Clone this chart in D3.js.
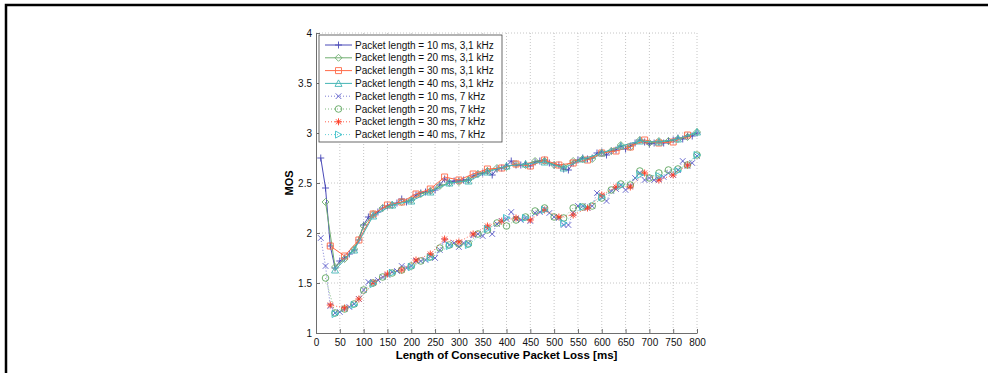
<!DOCTYPE html>
<html>
<head>
<meta charset="utf-8">
<script src="https://cdn.jsdelivr.net/npm/d3@7"></script>
<style>
  body { margin: 0; background: #fff; }
  text { font-family: "Liberation Sans", Arial, sans-serif; }
</style>
</head>
<body>
<div id="chart"></div>
<script>
// Tick labels
const xTicks = d3.range(0, 801, 50);
const yTicks = [1, 1.5, 2, 2.5, 3, 3.5, 4];

// Loss lengths (multiples of the packet length)
const loss10 = d3.range(10, 801, 10);
const loss20 = d3.range(20, 801, 20);
const loss30 = d3.range(30, 781, 30);
const loss40 = d3.range(40, 801, 40);

// MOS values, 3,1 kHz
const mos10nb = [2.75, 2.45, 1.87, 1.65, 1.72, 1.75, 1.79, 1.83, 1.93, 2.08,
  2.16, 2.18, 2.21, 2.25, 2.27, 2.28, 2.30, 2.34, 2.31, 2.33,
  2.38, 2.40, 2.41, 2.42, 2.43, 2.48, 2.54, 2.51, 2.52, 2.52,
  2.53, 2.53, 2.57, 2.59, 2.60, 2.62, 2.58, 2.64, 2.65, 2.67,
  2.72, 2.68, 2.68, 2.69, 2.67, 2.71, 2.72, 2.73, 2.70, 2.68,
  2.68, 2.64, 2.63, 2.70, 2.73, 2.75, 2.74, 2.75, 2.80, 2.81,
  2.78, 2.82, 2.83, 2.87, 2.84, 2.87, 2.90, 2.93, 2.91, 2.89,
  2.90, 2.91, 2.90, 2.92, 2.93, 2.95, 2.94, 2.97, 2.97, 3.00];
const mos20nb = [2.31, 1.66, 1.74, 1.84, 2.07, 2.19, 2.25, 2.28, 2.31, 2.33,
  2.39, 2.42, 2.47, 2.50, 2.51, 2.53, 2.59, 2.62, 2.65, 2.66,
  2.69, 2.68, 2.72, 2.72, 2.68, 2.66, 2.72, 2.74, 2.74, 2.80,
  2.82, 2.88, 2.86, 2.93, 2.90, 2.92, 2.92, 2.94, 2.96, 3.01];
const mos30nb = [1.87, 1.77, 1.93, 2.19, 2.28, 2.31, 2.39, 2.44, 2.56, 2.53,
  2.59, 2.64, 2.65, 2.69, 2.67, 2.73, 2.68, 2.70, 2.73, 2.80,
  2.82, 2.86, 2.93, 2.90, 2.91, 2.98];
const mos40nb = [1.63, 1.83, 2.17, 2.28, 2.32, 2.41, 2.50, 2.52, 2.61, 2.67,
  2.69, 2.71, 2.65, 2.74, 2.80, 2.87, 2.92, 2.91, 2.94, 3.01];

// MOS values, 7 kHz
const mos10wb = [1.95, 1.67, 1.27, 1.20, 1.21, 1.24, 1.26, 1.29, 1.34, 1.43,
  1.51, 1.51, 1.53, 1.56, 1.58, 1.61, 1.62, 1.67, 1.65, 1.67,
  1.72, 1.72, 1.73, 1.77, 1.75, 1.83, 1.92, 1.88, 1.90, 1.86,
  1.90, 1.90, 1.98, 1.99, 1.97, 2.05, 1.99, 2.09, 2.12, 2.14,
  2.21, 2.14, 2.13, 2.15, 2.12, 2.20, 2.21, 2.24, 2.20, 2.16,
  2.15, 2.08, 2.08, 2.20, 2.27, 2.27, 2.25, 2.27, 2.40, 2.36,
  2.32, 2.42, 2.44, 2.48, 2.43, 2.47, 2.55, 2.60, 2.53, 2.55,
  2.53, 2.54, 2.56, 2.60, 2.58, 2.63, 2.72, 2.67, 2.70, 2.77];
const mos20wb = [1.55, 1.20, 1.24, 1.29, 1.43, 1.50, 1.56, 1.60, 1.63, 1.67,
  1.72, 1.76, 1.85, 1.88, 1.89, 1.89, 1.99, 2.03, 2.10, 2.07,
  2.13, 2.16, 2.22, 2.25, 2.16, 2.15, 2.25, 2.26, 2.27, 2.35,
  2.43, 2.49, 2.48, 2.62, 2.55, 2.60, 2.63, 2.64, 2.68, 2.78];
const mos30wb = [1.28, 1.25, 1.34, 1.50, 1.59, 1.63, 1.73, 1.79, 1.94, 1.91,
  1.99, 2.07, 2.12, 2.15, 2.13, 2.23, 2.16, 2.18, 2.25, 2.38,
  2.46, 2.46, 2.60, 2.53, 2.58, 2.68];
const mos40wb = [1.19, 1.28, 1.49, 1.60, 1.66, 1.75, 1.87, 1.88, 2.04, 2.15,
  2.15, 2.23, 2.10, 2.26, 2.36, 2.47, 2.58, 2.57, 2.62, 2.78];

const seriesNames = [
  'Packet length = 10 ms, 3,1 kHz', 'Packet length = 20 ms, 3,1 kHz',
  'Packet length = 30 ms, 3,1 kHz', 'Packet length = 40 ms, 3,1 kHz',
  'Packet length = 10 ms, 7 kHz', 'Packet length = 20 ms, 7 kHz',
  'Packet length = 30 ms, 7 kHz', 'Packet length = 40 ms, 7 kHz'
];

const series = [
  { x: loss10, y: mos10nb, color: '#4a4ab8', marker: 'plus', dotted: false },
  { x: loss20, y: mos20nb, color: '#6fae6f', marker: 'diamond', dotted: false },
  { x: loss30, y: mos30nb, color: '#ff6a48', marker: 'square', dotted: false },
  { x: loss40, y: mos40nb, color: '#45b5b5', marker: 'triup', dotted: false },
  { x: loss10, y: mos10wb, color: '#5a5ac8', marker: 'x', dotted: true },
  { x: loss20, y: mos20wb, color: '#5fa65f', marker: 'circle', dotted: true },
  { x: loss30, y: mos30wb, color: '#ff3a22', marker: 'star', dotted: true },
  { x: loss40, y: mos40wb, color: '#3cc0c8', marker: 'triright', dotted: true }
].map((s, i) => ({ ...s, name: seriesNames[i] }));

// Layout
const W = 988, H = 373;
const margin = { top: 33, left: 316 };
const width = 381, height = 300;

const x = d3.scaleLinear().domain([0, 800]).range([0, width]);
const y = d3.scaleLinear().domain([1, 4]).range([height, 0]);

const markerPath = {
  plus: 'M-3.5,0H3.5M0,-3.5V3.5',
  diamond: 'M0,-3.5L3.5,0L0,3.5L-3.5,0Z',
  square: 'M-3,-3H3V3H-3Z',
  triup: 'M0,-3.5L3.5,3L-3.5,3Z',
  x: 'M-2.8,-2.8L2.8,2.8M-2.8,2.8L2.8,-2.8',
  circle: 'M3.3,0A3.3,3.3 0 1,1 -3.3,0A3.3,3.3 0 1,1 3.3,0Z',
  star: 'M-3.5,0H3.5M0,-3.5V3.5M-2.5,-2.5L2.5,2.5M-2.5,2.5L2.5,-2.5',
  triright: 'M-3,-3.5L3.5,0L-3,3.5Z'
};

const svg = d3.select('#chart')
  .append('svg')
  .attr('width', W)
  .attr('height', H);

// outer frame (top and left edges)
svg.append('path')
  .attr('d', `M6,${H}V5H${W}`)
  .attr('fill', 'none')
  .attr('stroke', '#000')
  .attr('stroke-width', 2.5);

const g = svg.append('g')
  .attr('transform', `translate(${margin.left},${margin.top})`);

// grid
g.append('g')
  .selectAll('line')
  .data(xTicks.slice(1))
  .enter()
  .append('line')
  .attr('x1', d => x(d)).attr('x2', d => x(d))
  .attr('y1', 0).attr('y2', height)
  .attr('stroke', '#b8b8b8')
  .attr('stroke-width', 0.8)
  .attr('stroke-dasharray', '1,2');

g.append('g')
  .selectAll('line')
  .data(yTicks.slice(1))
  .enter()
  .append('line')
  .attr('x1', 0).attr('x2', width)
  .attr('y1', d => y(d)).attr('y2', d => y(d))
  .attr('stroke', '#b8b8b8')
  .attr('stroke-width', 0.8)
  .attr('stroke-dasharray', '1,2');

// axes
const xAxis = g.append('g')
  .attr('transform', `translate(0,${height})`)
  .call(d3.axisBottom(x).tickValues(xTicks).tickSizeInner(-4).tickSizeOuter(0).tickPadding(6));
const yAxis = g.append('g')
  .call(d3.axisLeft(y).tickValues(yTicks).tickSizeInner(-4).tickSizeOuter(0).tickPadding(8)
    .tickFormat(d3.format('')));

[xAxis, yAxis].forEach(a => {
  a.select('.domain').attr('stroke', '#6e6e6e');
  a.selectAll('.tick line').attr('stroke', '#6e6e6e');
  a.selectAll('.tick text')
    .attr('fill', '#111')
    .style('font-size', '10px')
    .style('font-family', '"Liberation Sans", Arial, sans-serif');
});
yAxis.selectAll('.tick text').attr('x', -4);

// axis titles
g.append('text')
  .attr('x', width / 2)
  .attr('y', height + 26)
  .attr('text-anchor', 'middle')
  .style('font-size', '11.5px')
  .style('font-weight', 'bold')
  .text('Length of Consecutive Packet Loss [ms]');

g.append('text')
  .attr('transform', `translate(-23,${height / 2}) rotate(-90)`)
  .attr('text-anchor', 'middle')
  .style('font-size', '11px')
  .style('font-weight', 'bold')
  .text('MOS');

// series lines and markers
const line = d3.line()
  .x(d => x(d[0]))
  .y(d => y(d[1]));

series.forEach(s => {
  const pts = s.x.map((v, i) => [v, s.y[i]]);
  const sg = g.append('g');
  sg.append('path')
    .datum(pts)
    .attr('d', line)
    .attr('fill', 'none')
    .attr('stroke', s.color)
    .attr('stroke-width', s.dotted ? 0.8 : 1)
    .attr('stroke-dasharray', s.dotted ? '1,2' : null);
  sg.selectAll('path.m')
    .data(pts)
    .enter()
    .append('path')
    .attr('class', 'm')
    .attr('d', markerPath[s.marker])
    .attr('transform', d => `translate(${x(d[0])},${y(d[1])})`)
    .attr('fill', 'none')
    .attr('stroke', s.color)
    .attr('stroke-width', 0.9);
});

// legend
const legend = g.append('g').attr('transform', 'translate(3,2)');
legend.append('rect')
  .attr('width', 183)
  .attr('height', 107)
  .attr('fill', '#fff')
  .attr('stroke', '#444')
  .attr('stroke-width', 0.8);

const rows = legend.selectAll('g.row')
  .data(series)
  .enter()
  .append('g')
  .attr('class', 'row')
  .attr('transform', (d, i) => `translate(0,${10 + i * 12.8})`);

rows.append('line')
  .attr('x1', 6).attr('x2', 33)
  .attr('stroke', d => d.color)
  .attr('stroke-width', d => d.dotted ? 0.8 : 1)
  .attr('stroke-dasharray', d => d.dotted ? '1,2' : null);
rows.append('path')
  .attr('d', d => markerPath[d.marker])
  .attr('transform', 'translate(19.5,0)')
  .attr('fill', 'none')
  .attr('stroke', d => d.color)
  .attr('stroke-width', 0.9);
rows.append('text')
  .attr('x', 36)
  .attr('y', 3.6)
  .style('font-size', '10px')
  .attr('fill', '#111')
  .text(d => d.name);
</script>
</body>
</html>
